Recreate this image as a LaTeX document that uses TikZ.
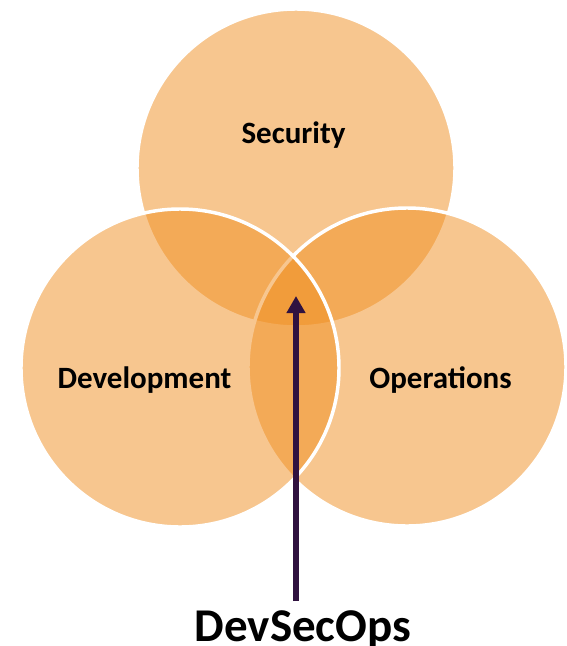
\documentclass[tikz,border=0pt]{standalone}
\usepackage{fontspec}
\setmainfont{Carlito}
\usetikzlibrary{arrows.meta}
\definecolor{vennorange}{RGB}{241,143,33}
\definecolor{arrowpurple}{RGB}{48,18,64}
\tikzset{
  venn/.style={circle, minimum size=238.5pt, inner sep=0pt, outer sep=0pt,
    fill=vennorange, fill opacity=0.5, draw=white, draw opacity=1, line width=2.6pt},
  vennlabel/.style={anchor=base, inner sep=0pt, font=\fontsize{23.25}{28}\selectfont\bfseries, text=black},
  biglabel/.style={anchor=base, inner sep=0pt, font=\fontsize{35.25}{42}\selectfont\bfseries, text=black},
  pointer/.style={draw=arrowpurple, line width=4.1pt, -{Triangle[width=13.5pt,length=12.75pt]}}
}
\begin{document}
\begin{tikzpicture}[x=0.75pt,y=-0.75pt]
\fill[white] (0,0) rectangle (567,646);
\useasboundingbox (0,0) rectangle (567,646);
\node[venn] (sec) at (296,168) {};
\node[venn] (ops) at (407,367) {};
\node[venn] (dev) at (180,368) {};
\node[vennlabel] (seclabel) at (293.5,143) {Security};
\node[vennlabel] (devlabel) at (144.5,388) {Development};
\node[vennlabel] (opslabel) at (440.5,388) {Operations};
\node[biglabel] (dso) at (303,641) {DevSecOps};
\coordinate (arrowfoot) at (296,601);
\coordinate (arrowtip) at (296,296);
\draw[pointer] (arrowfoot) -- (arrowtip);
\end{tikzpicture}
\end{document}
